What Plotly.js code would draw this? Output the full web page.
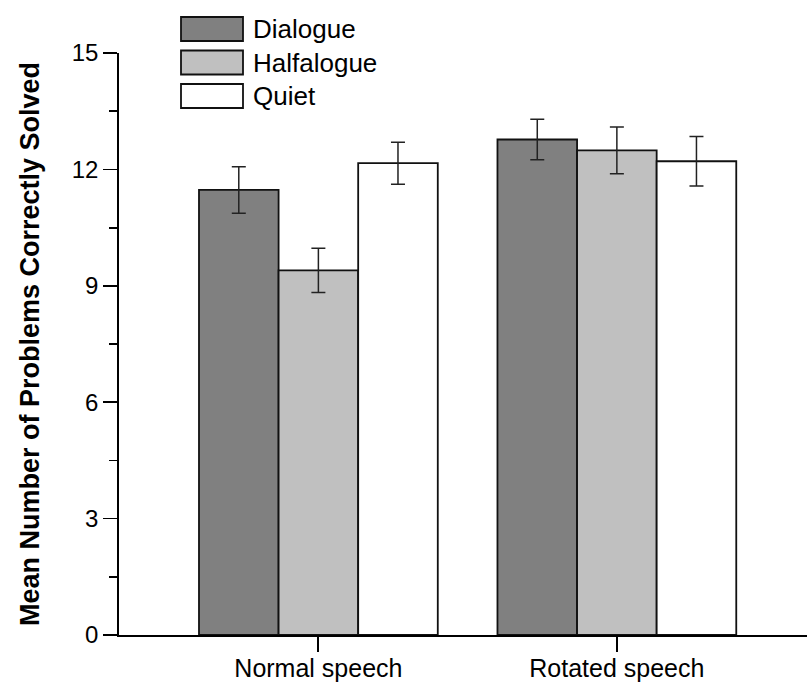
<!DOCTYPE html>
<html><head><meta charset="utf-8">
<script src="https://cdn.plot.ly/plotly-3.0.1.min.js"></script>
<style>body{margin:0;background:#fff}#chart{width:807px;height:686px}</style>
</head><body><div id="chart"></div>
<script>
const categories = ["Normal speech", "Rotated speech"];
const seriesNames = ["Dialogue", "Halfalogue", "Quiet"];
const dialogue = [11.47, 12.77];
const dialogueErr = [0.6, 0.52];
const halfalogue = [9.40, 12.49];
const halfalogueErr = [0.57, 0.6];
const quiet = [12.16, 12.21];
const quietErr = [0.54, 0.64];
const colors = ["#808080", "#c0c0c0", "#ffffff"];

const vals = [dialogue, halfalogue, quiet];
const errs = [dialogueErr, halfalogueErr, quietErr];
const font = "Liberation Sans, Arial, sans-serif";

const traces = vals.map((v, i) => ({
  type: "bar", x: [0, 1], y: v, name: seriesNames[i],
  marker: {color: colors[i], line: {color: "#111", width: 1.8}},
  error_y: {type: "data", array: errs[i], visible: true, color: "#222", thickness: 1.5, width: 7},
  showlegend: false, hoverinfo: "skip"
}));

const L = 119, T = 53, B = 635, R = 807;
const W = R - L, H = B - T;
const shapes = [], annotations = [];
seriesNames.forEach((n, i) => {
  const top = 17 + i * 33.5, bot = top + 24;
  shapes.push({type: "rect", xref: "paper", yref: "paper",
    x0: (181 - L) / W, x1: (243 - L) / W,
    y0: (B - bot) / H, y1: (B - top) / H,
    fillcolor: colors[i], line: {color: "#111", width: 1.8}});
  annotations.push({xref: "paper", yref: "paper", x: (251 - L) / W, y: (B - (top + 12)) / H,
    text: n, showarrow: false, xanchor: "left", yanchor: "middle",
    font: {family: font, size: 26, color: "#000"}});
});

Plotly.newPlot("chart", traces, {
  width: 807, height: 686,
  margin: {l: L, r: 807 - R, t: T, b: 686 - B},
  paper_bgcolor: "#fff", plot_bgcolor: "#fff",
  barmode: "group", bargap: 0.2, bargroupgap: 0,
  xaxis: {range: [-0.668, 1.637], tickvals: [0, 1], ticktext: categories,
    showgrid: false, zeroline: false, showline: true, linecolor: "#000", linewidth: 1.8,
    ticks: "outside", ticklen: 15, tickwidth: 1.8, tickcolor: "#000", ticklabelstandoff: -5,
    tickfont: {family: font, size: 25, color: "#000"}},
  yaxis: {range: [0, 15], tickvals: [0, 3, 6, 9, 12, 15], showgrid: false, zeroline: false,
    showline: true, linecolor: "#000", linewidth: 1.8,
    ticks: "outside", ticklen: 14, tickwidth: 1.8, tickcolor: "#000",
    minor: {dtick: 1.5, ticks: "outside", ticklen: 8, tickwidth: 1.8, tickcolor: "#000", showgrid: false},
    tickfont: {family: font, size: 24, color: "#000"},
    title: {text: "<b>Mean Number of Problems Correctly Solved</b>", standoff: 24,
      font: {family: font, size: 27, color: "#000"}}},
  shapes: shapes, annotations: annotations
}, {displayModeBar: false, staticPlot: true});
</script></body></html>
